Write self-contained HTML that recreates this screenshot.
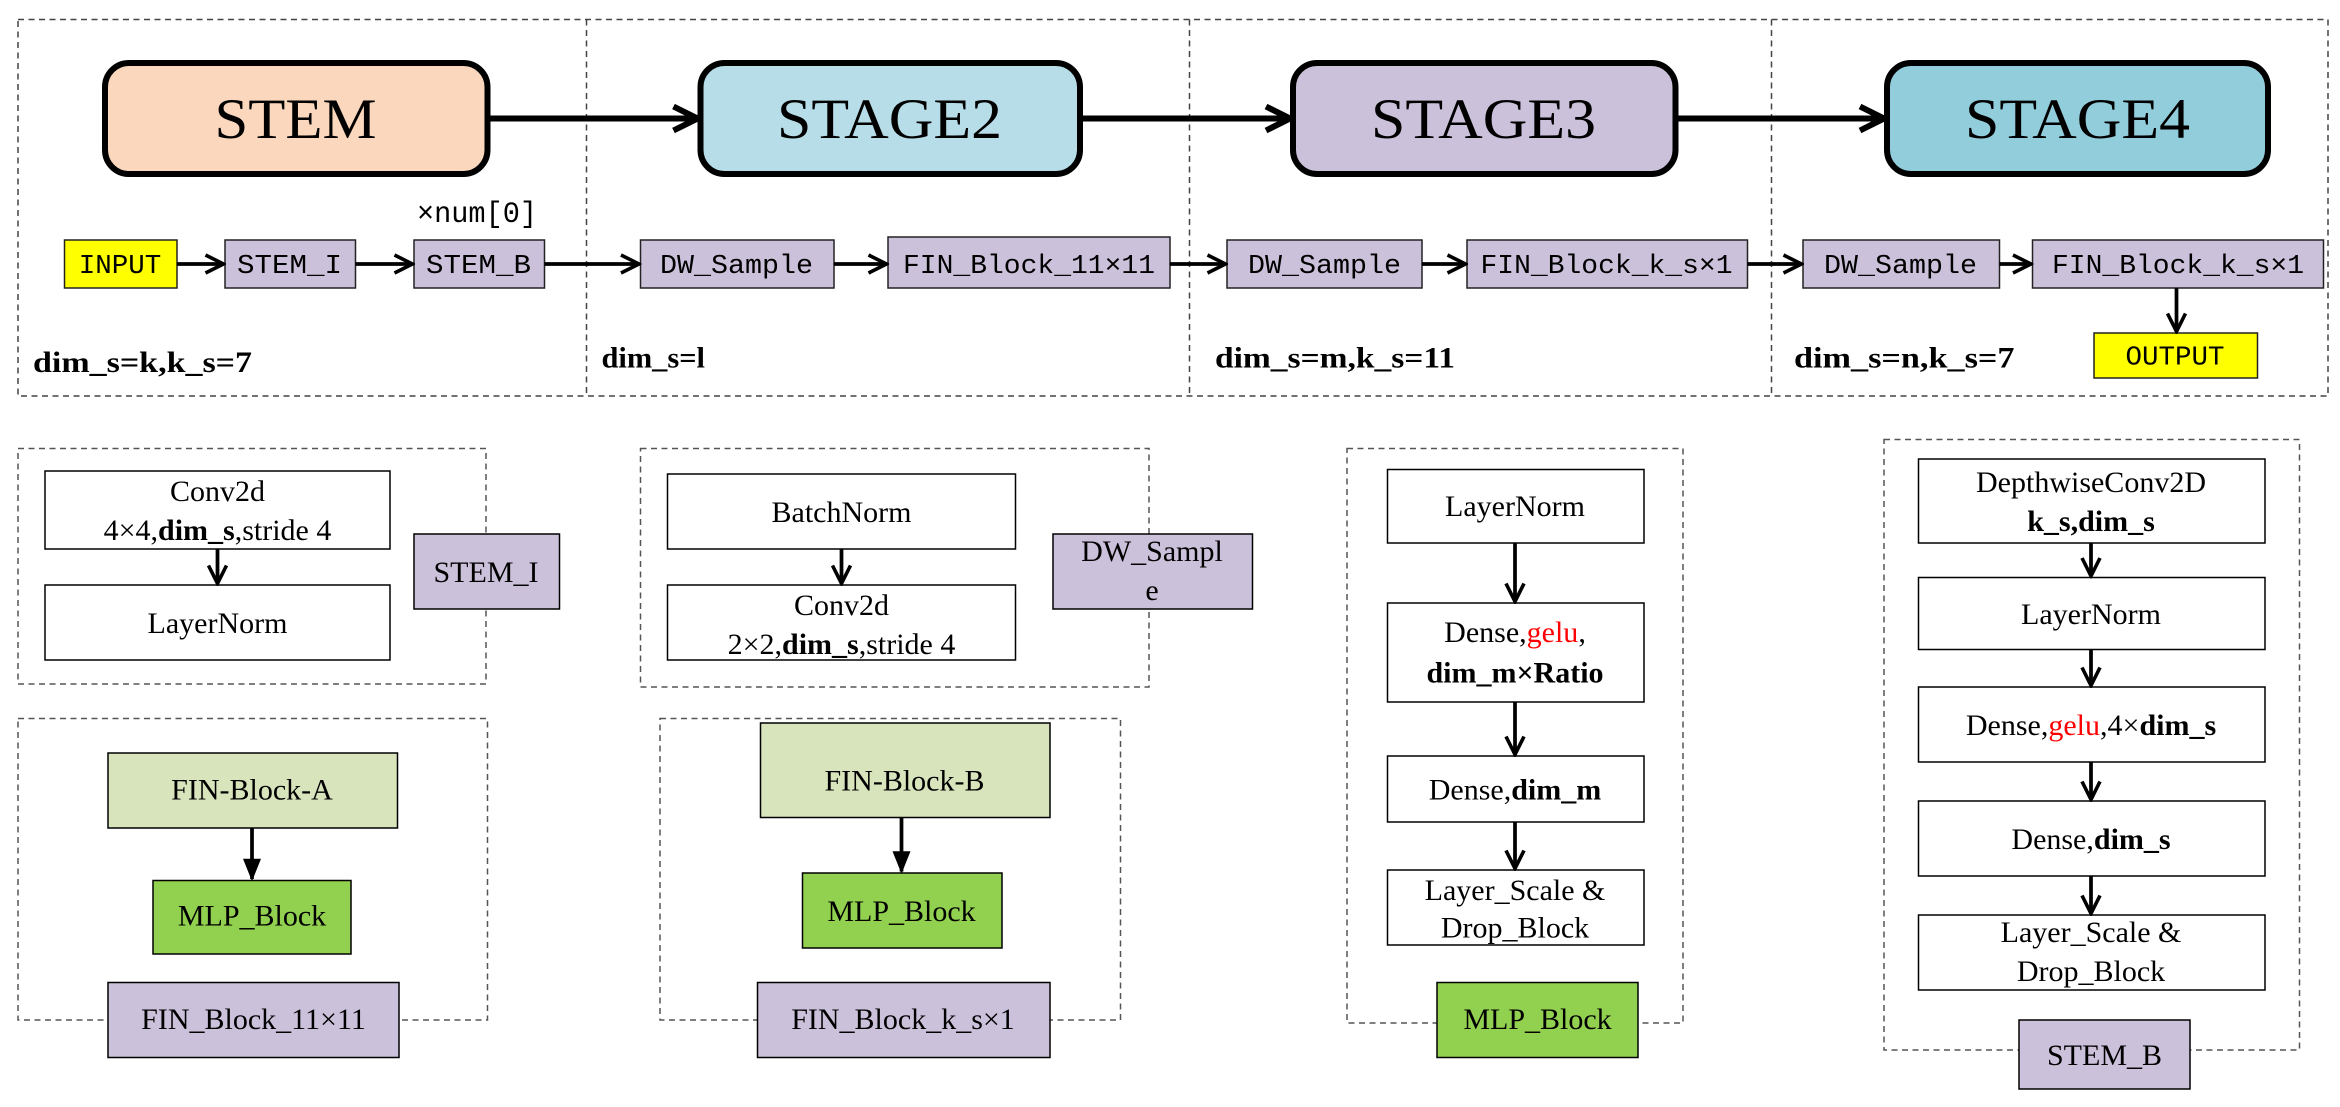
<!DOCTYPE html>
<html><head><meta charset="utf-8"><style>html,body{margin:0;padding:0;background:#fff}svg{display:block}</style></head><body>
<svg width="2340" height="1107" viewBox="0 0 1560 738" xmlns="http://www.w3.org/2000/svg">
<defs>
<marker id="ch" viewBox="0 0 10 10" refX="9" refY="5" markerWidth="5" markerHeight="6" orient="auto" markerUnits="strokeWidth"><path d="M1,1 L9,5 L1,9" fill="none" stroke="#000" stroke-width="2"/></marker>
<marker id="cs" viewBox="0 0 10 10" refX="9" refY="5" markerWidth="6" markerHeight="8" orient="auto" markerUnits="strokeWidth"><path d="M1,1 L9,5 L1,9" fill="none" stroke="#000" stroke-width="1.6"/></marker>
<marker id="tr" viewBox="0 0 10 10" refX="9" refY="5" markerWidth="7" markerHeight="6" orient="auto" markerUnits="strokeWidth"><path d="M0,1 L10,5 L0,9 Z" fill="#000"/></marker>
</defs>
<g font-family="Liberation Serif, serif" fill="#000">
<rect x="12" y="13" width="1540" height="251" fill="none" stroke="#444" stroke-dasharray="4,3" stroke-width="1"/>
<line x1="391" y1="13" x2="391" y2="264" stroke="#444" stroke-dasharray="4,3"/>
<line x1="793" y1="13" x2="793" y2="264" stroke="#444" stroke-dasharray="4,3"/>
<line x1="1181" y1="13" x2="1181" y2="264" stroke="#444" stroke-dasharray="4,3"/>
<g stroke="#000" stroke-width="4">
<rect x="70" y="42" width="255" height="74" rx="16" fill="#fad7bd"/>
<rect x="467" y="42" width="253" height="74" rx="16" fill="#b7dde8"/>
<rect x="862" y="42" width="255" height="74" rx="16" fill="#ccc1da"/>
<rect x="1258" y="42" width="254" height="74" rx="16" fill="#92cddc"/>
<line x1="325" y1="79" x2="465" y2="79" marker-end="url(#ch)"/>
<line x1="720" y1="79" x2="860" y2="79" marker-end="url(#ch)"/>
<line x1="1117" y1="79" x2="1256" y2="79" marker-end="url(#ch)"/>
</g>
<g font-size="38" text-anchor="middle">
<text x="197" y="92" textLength="108" lengthAdjust="spacingAndGlyphs">STEM</text>
<text x="593" y="92" textLength="150" lengthAdjust="spacingAndGlyphs">STAGE2</text>
<text x="989" y="92" textLength="150" lengthAdjust="spacingAndGlyphs">STAGE3</text>
<text x="1385" y="92" textLength="150" lengthAdjust="spacingAndGlyphs">STAGE4</text>
</g>
<g stroke="#222" stroke-width="1">
<rect x="43" y="160" width="75" height="32" fill="#ffff00"/>
<rect x="150" y="160" width="87" height="32" fill="#ccc1da"/>
<rect x="276" y="160" width="87" height="32" fill="#ccc1da"/>
<rect x="427" y="160" width="129" height="32" fill="#ccc1da"/>
<rect x="592" y="158" width="188" height="34" fill="#ccc1da"/>
<rect x="818" y="160" width="130" height="32" fill="#ccc1da"/>
<rect x="978" y="160" width="187" height="32" fill="#ccc1da"/>
<rect x="1202" y="160" width="131" height="32" fill="#ccc1da"/>
<rect x="1355" y="160" width="194" height="32" fill="#ccc1da"/>
<rect x="1396" y="222" width="109" height="30" fill="#ffff00"/>
</g>
<g stroke="#000" stroke-width="2.5" fill="none">
<line x1="118" y1="176" x2="149" y2="176" marker-end="url(#cs)"/>
<line x1="237" y1="176" x2="275" y2="176" marker-end="url(#cs)"/>
<line x1="363" y1="176" x2="426" y2="176" marker-end="url(#cs)"/>
<line x1="556" y1="176" x2="591" y2="176" marker-end="url(#cs)"/>
<line x1="780" y1="176" x2="817" y2="176" marker-end="url(#cs)"/>
<line x1="948" y1="176" x2="977" y2="176" marker-end="url(#cs)"/>
<line x1="1165" y1="176" x2="1201" y2="176" marker-end="url(#cs)"/>
<line x1="1333" y1="176" x2="1354" y2="176" marker-end="url(#cs)"/>
<line x1="1451" y1="192" x2="1451" y2="221" marker-end="url(#cs)"/>
</g>
<g font-family="Liberation Mono, monospace" font-size="18" text-anchor="middle">
<text x="80" y="182" textLength="55" lengthAdjust="spacingAndGlyphs">INPUT</text>
<text x="193" y="182" textLength="70" lengthAdjust="spacingAndGlyphs">STEM_I</text>
<text x="319" y="182" textLength="70" lengthAdjust="spacingAndGlyphs">STEM_B</text>
<text x="491" y="182" textLength="102" lengthAdjust="spacingAndGlyphs">DW_Sample</text>
<text x="686" y="182" textLength="168" lengthAdjust="spacingAndGlyphs">FIN_Block_11×11</text>
<text x="883" y="182" textLength="102" lengthAdjust="spacingAndGlyphs">DW_Sample</text>
<text x="1071" y="182" textLength="168" lengthAdjust="spacingAndGlyphs">FIN_Block_k_s×1</text>
<text x="1267" y="182" textLength="102" lengthAdjust="spacingAndGlyphs">DW_Sample</text>
<text x="1452" y="182" textLength="168" lengthAdjust="spacingAndGlyphs">FIN_Block_k_s×1</text>
<text x="1450" y="243" textLength="66" lengthAdjust="spacingAndGlyphs">OUTPUT</text>
<text x="318" y="148" textLength="80" lengthAdjust="spacingAndGlyphs" font-size="20">×num[0]</text>
</g>
<g font-size="20" font-weight="bold">
<text x="22" y="248" textLength="146" lengthAdjust="spacingAndGlyphs">dim_s=k,k_s=7</text>
<text x="401" y="245" textLength="69" lengthAdjust="spacingAndGlyphs">dim_s=l</text>
<text x="810" y="245" textLength="160" lengthAdjust="spacingAndGlyphs">dim_s=m,k_s=11</text>
<text x="1196" y="245" textLength="147" lengthAdjust="spacingAndGlyphs">dim_s=n,k_s=7</text>
</g>
<g fill="none" stroke="#555" stroke-dasharray="4,3">
<rect x="12" y="299" width="312" height="157"/>
<rect x="427" y="299" width="339" height="159"/>
<rect x="898" y="299" width="224" height="383"/>
<rect x="1256" y="293" width="277" height="407"/>
<rect x="12" y="479" width="313" height="201"/>
<rect x="440" y="479" width="307" height="201"/>
</g>
<g stroke="#000" stroke-width="1" fill="#fff">
<rect x="30" y="314" width="230" height="52"/>
<rect x="30" y="390" width="230" height="50"/>
<rect x="445" y="316" width="232" height="50"/>
<rect x="445" y="390" width="232" height="50"/>
<rect x="925" y="313" width="171" height="49"/>
<rect x="925" y="402" width="171" height="66"/>
<rect x="925" y="504" width="171" height="44"/>
<rect x="925" y="580" width="171" height="50"/>
<rect x="1279" y="306" width="231" height="56"/>
<rect x="1279" y="385" width="231" height="48"/>
<rect x="1279" y="458" width="231" height="50"/>
<rect x="1279" y="534" width="231" height="50"/>
<rect x="1279" y="610" width="231" height="50"/>
<rect x="276" y="356" width="97" height="50" fill="#ccc1da"/>
<rect x="702" y="356" width="133" height="50" fill="#ccc1da"/>
<rect x="958" y="655" width="134" height="50" fill="#92d050"/>
<rect x="1346" y="680" width="114" height="46" fill="#ccc1da"/>
<rect x="72" y="502" width="193" height="50" fill="#d8e4bc"/>
<rect x="102" y="587" width="132" height="49" fill="#92d050"/>
<rect x="72" y="655" width="194" height="50" fill="#ccc1da"/>
<rect x="507" y="482" width="193" height="63" fill="#d8e4bc"/>
<rect x="535" y="582" width="133" height="50" fill="#92d050"/>
<rect x="505" y="655" width="195" height="50" fill="#ccc1da"/>
</g>
<g stroke="#000" stroke-width="2.5">
<line x1="145" y1="366" x2="145" y2="389" marker-end="url(#cs)"/>
<line x1="561" y1="366" x2="561" y2="389" marker-end="url(#cs)"/>
<line x1="1010" y1="362" x2="1010" y2="401" marker-end="url(#cs)"/>
<line x1="1010" y1="468" x2="1010" y2="503" marker-end="url(#cs)"/>
<line x1="1010" y1="548" x2="1010" y2="579" marker-end="url(#cs)"/>
<line x1="1394" y1="362" x2="1394" y2="384" marker-end="url(#cs)"/>
<line x1="1394" y1="433" x2="1394" y2="457" marker-end="url(#cs)"/>
<line x1="1394" y1="508" x2="1394" y2="533" marker-end="url(#cs)"/>
<line x1="1394" y1="584" x2="1394" y2="609" marker-end="url(#cs)"/>
<line x1="168" y1="552" x2="168" y2="586" marker-end="url(#tr)"/>
<line x1="601" y1="545" x2="601" y2="581" marker-end="url(#tr)"/>
</g>
<g font-size="20" text-anchor="middle">
<text x="145" y="334">Conv2d</text>
<text x="145" y="360">4×4,<tspan font-weight="bold">dim_s</tspan>,stride 4</text>
<text x="145" y="422">LayerNorm</text>
<text x="561" y="348">BatchNorm</text>
<text x="561" y="410">Conv2d</text>
<text x="561" y="436">2×2,<tspan font-weight="bold">dim_s</tspan>,stride 4</text>
<text x="324" y="388">STEM_I</text>
<text x="768" y="374">DW_Sampl</text>
<text x="768" y="400">e</text>
<text x="1010" y="344">LayerNorm</text>
<text x="1010" y="428">Dense,<tspan fill="#ff0000">gelu</tspan>,</text>
<text x="1010" y="455" font-weight="bold">dim_m×Ratio</text>
<text x="1010" y="533">Dense,<tspan font-weight="bold">dim_m</tspan></text>
<text x="1010" y="600">Layer_Scale &amp;</text>
<text x="1010" y="625">Drop_Block</text>
<text x="1025" y="686">MLP_Block</text>
<text x="1394" y="328">DepthwiseConv2D</text>
<text x="1394" y="354" font-weight="bold">k_s,dim_s</text>
<text x="1394" y="416">LayerNorm</text>
<text x="1394" y="490">Dense,<tspan fill="#ff0000">gelu</tspan>,4×<tspan font-weight="bold">dim_s</tspan></text>
<text x="1394" y="566">Dense,<tspan font-weight="bold">dim_s</tspan></text>
<text x="1394" y="628">Layer_Scale &amp;</text>
<text x="1394" y="654">Drop_Block</text>
<text x="1403" y="710">STEM_B</text>
<text x="168" y="533">FIN-Block-A</text>
<text x="168" y="617">MLP_Block</text>
<text x="169" y="686">FIN_Block_11×11</text>
<text x="603" y="527">FIN-Block-B</text>
<text x="601" y="614">MLP_Block</text>
<text x="602" y="686">FIN_Block_k_s×1</text>
</g>
</g>
</svg>
</body></html>
